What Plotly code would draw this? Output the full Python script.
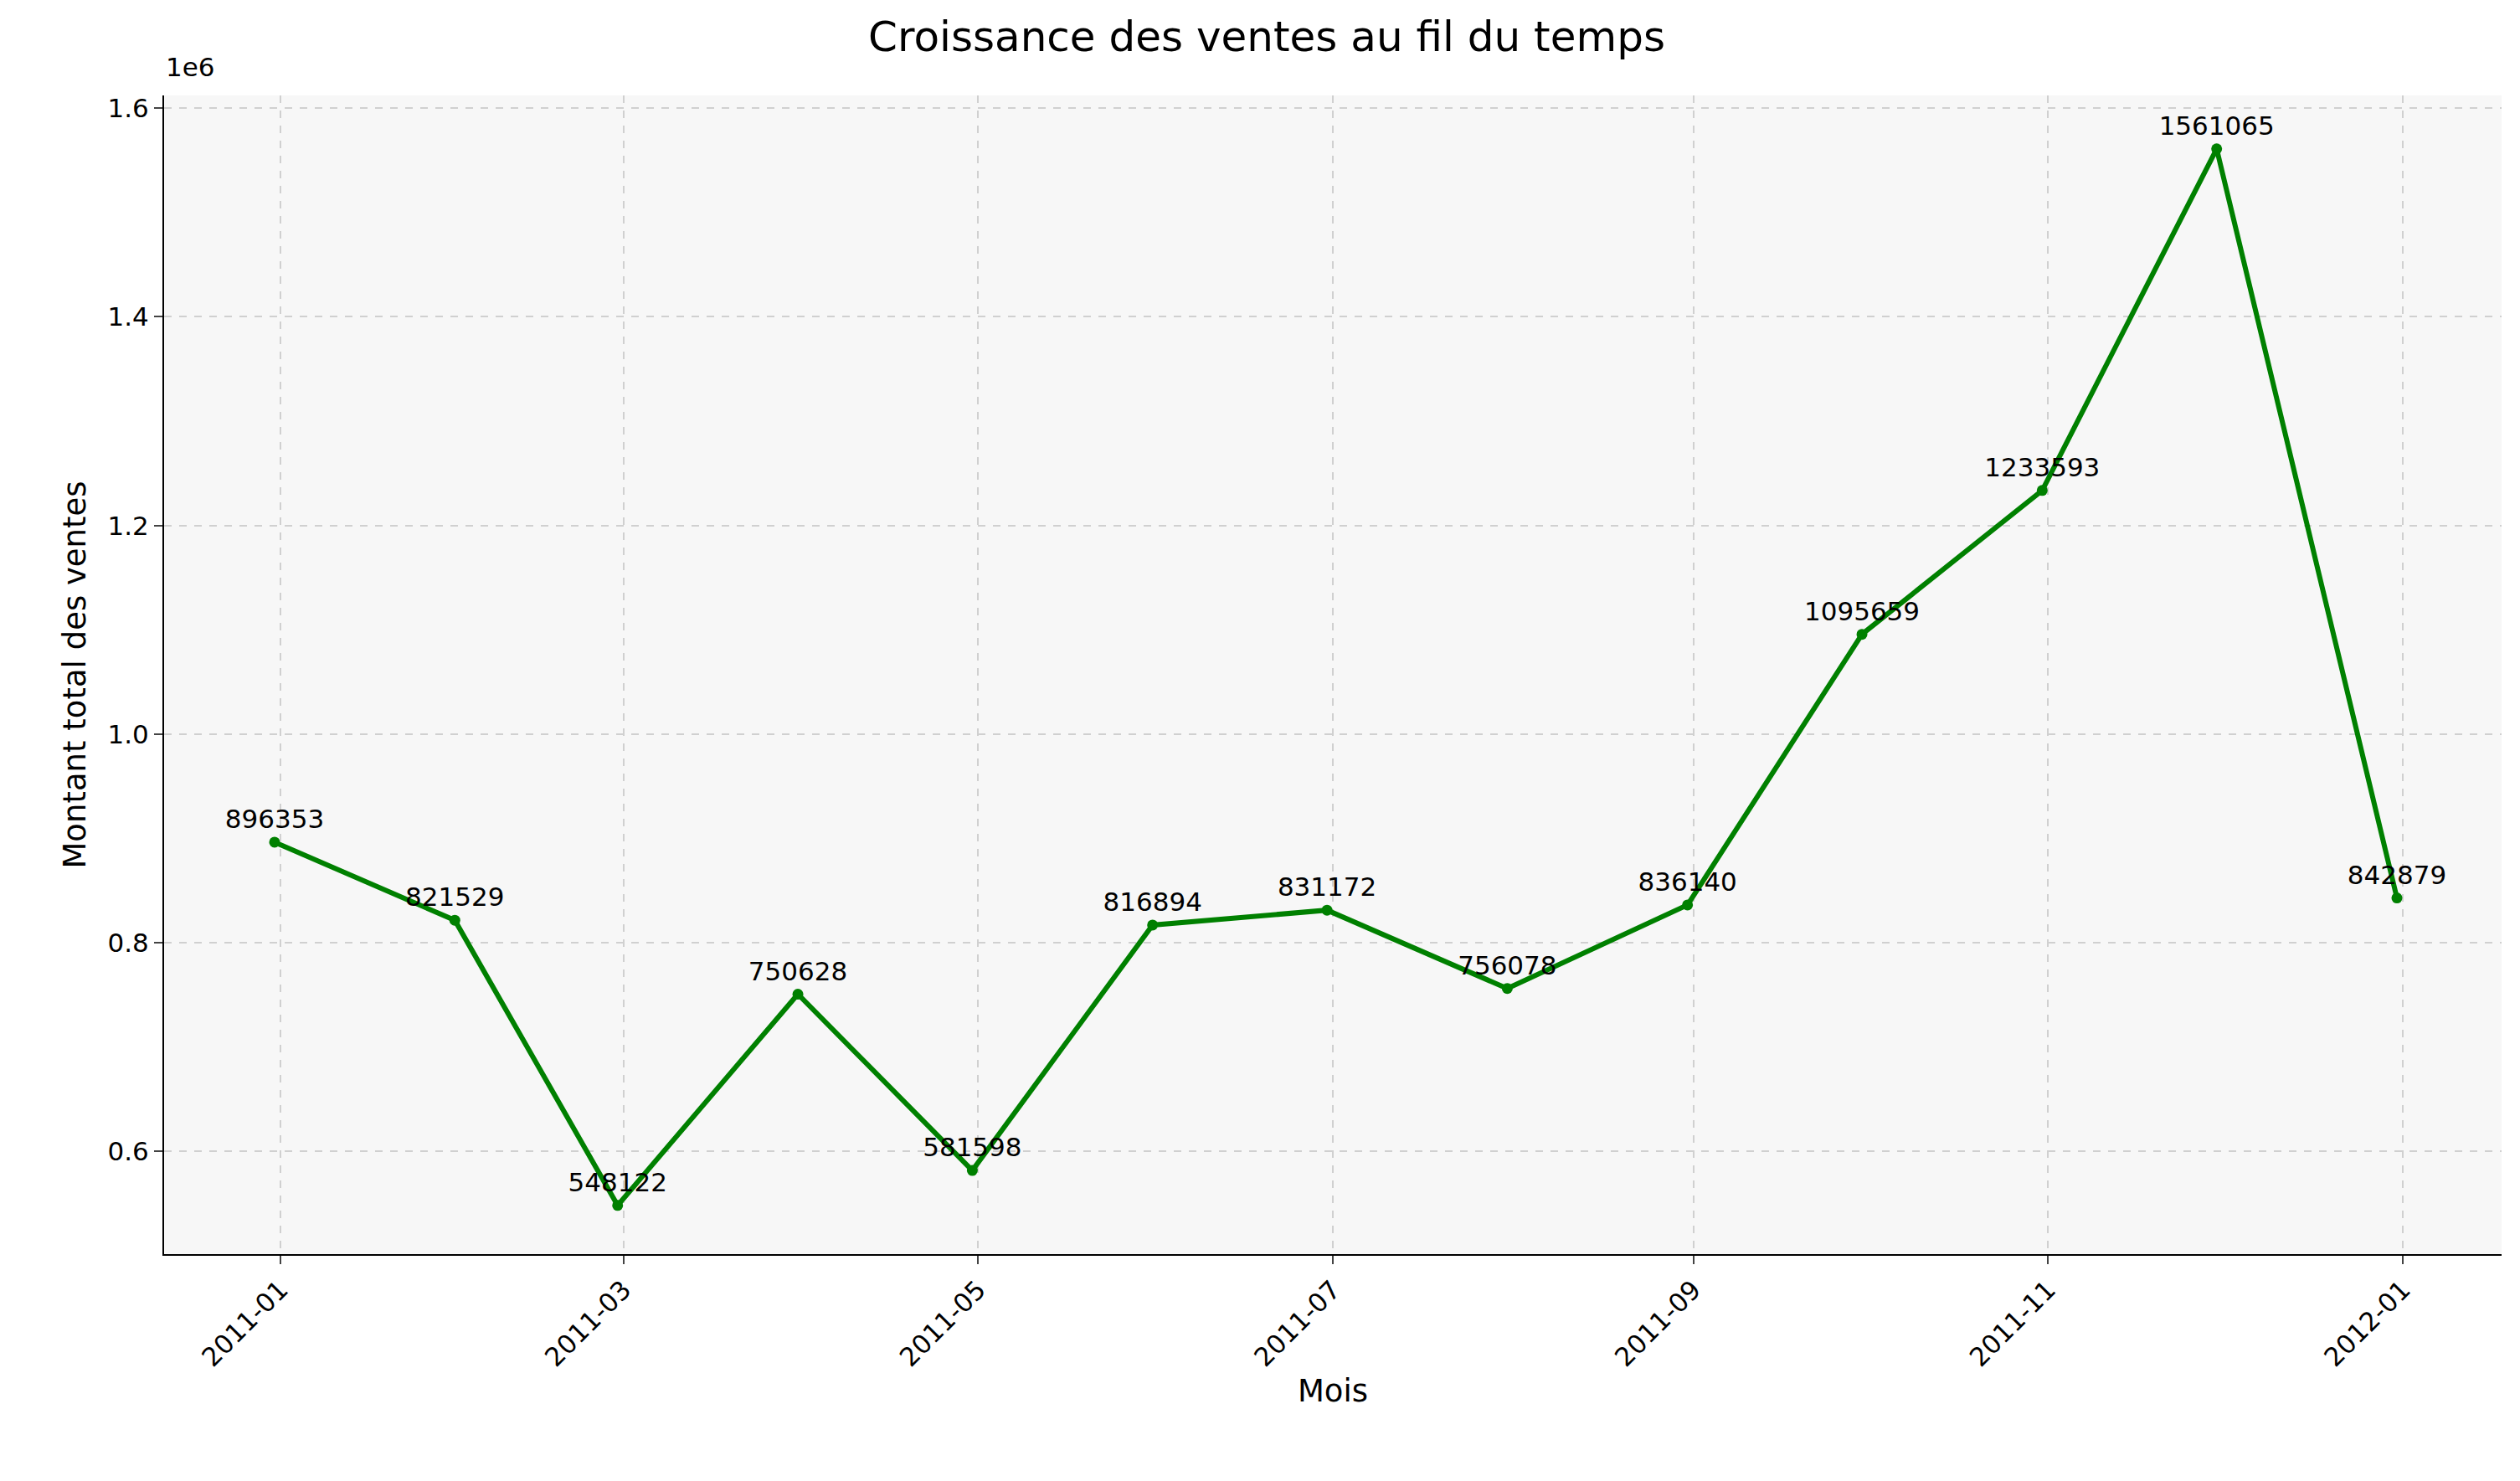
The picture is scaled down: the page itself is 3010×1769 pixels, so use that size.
import plotly.graph_objects as go

months = ["2010-12-31", "2011-01-31", "2011-02-28", "2011-03-31", "2011-04-30",
          "2011-05-31", "2011-06-30", "2011-07-31", "2011-08-31", "2011-09-30",
          "2011-10-31", "2011-11-30", "2011-12-31"]
sales = [896353, 821529, 548122, 750628, 581598, 816894, 831172,
         756078, 836140, 1095659, 1233593, 1561065, 842879]
x_ticks = ["2011-01-01", "2011-03-01", "2011-05-01", "2011-07-01",
           "2011-09-01", "2011-11-01", "2012-01-01"]
x_labels = ["2011-01", "2011-03", "2011-05", "2011-07", "2011-09", "2011-11", "2012-01"]
y_ticks = [600000, 800000, 1000000, 1200000, 1400000, 1600000]
y_labels = ["0.6", "0.8", "1.0", "1.2", "1.4", "1.6"]

fig = go.Figure()
fig.add_trace(go.Scatter(
    x=months, y=sales, mode="lines+markers+text",
    line=dict(color="green", width=6), marker=dict(color="green", size=13),
    text=[str(v) for v in sales], textposition="top center",
    textfont=dict(size=31, color="black"), cliponaxis=False,
))

grid = dict(showgrid=True, gridcolor="#d0d0d0", griddash="dash", gridwidth=2)
fig.update_xaxes(range=["2010-12-12", "2012-01-18"], tickvals=x_ticks, ticktext=x_labels,
                 tickangle=-45, ticks="outside", ticklen=10, tickwidth=2, tickfont=dict(size=31),
                 showline=True, linecolor="black", linewidth=2,
                 title=dict(text="Mois", font=dict(size=37), standoff=10), **grid)
fig.update_yaxes(range=[501400, 1612300], tickvals=y_ticks, ticktext=y_labels,
                 ticks="outside", ticklen=10, tickwidth=2, tickfont=dict(size=31),
                 showline=True, linecolor="black", linewidth=2, zeroline=False,
                 title=dict(text="Montant total des ventes", font=dict(size=37), standoff=15), **grid)
fig.update_layout(
    width=3010, height=1769, paper_bgcolor="white", plot_bgcolor="#f7f7f7",
    margin=dict(l=188, r=30, t=106, b=279), showlegend=False,
    font=dict(family="DejaVu Sans", color="black"),
    title=dict(text="Croissance des ventes au fil du temps", x=0.5, y=0.99,
               xanchor="center", yanchor="top", font=dict(size=50)),
    annotations=[dict(text="1e6", xref="paper", yref="paper", x=0, y=1.01,
                      xanchor="left", yanchor="bottom", showarrow=False,
                      font=dict(size=31))],
)
fig.write_html("out.html")
